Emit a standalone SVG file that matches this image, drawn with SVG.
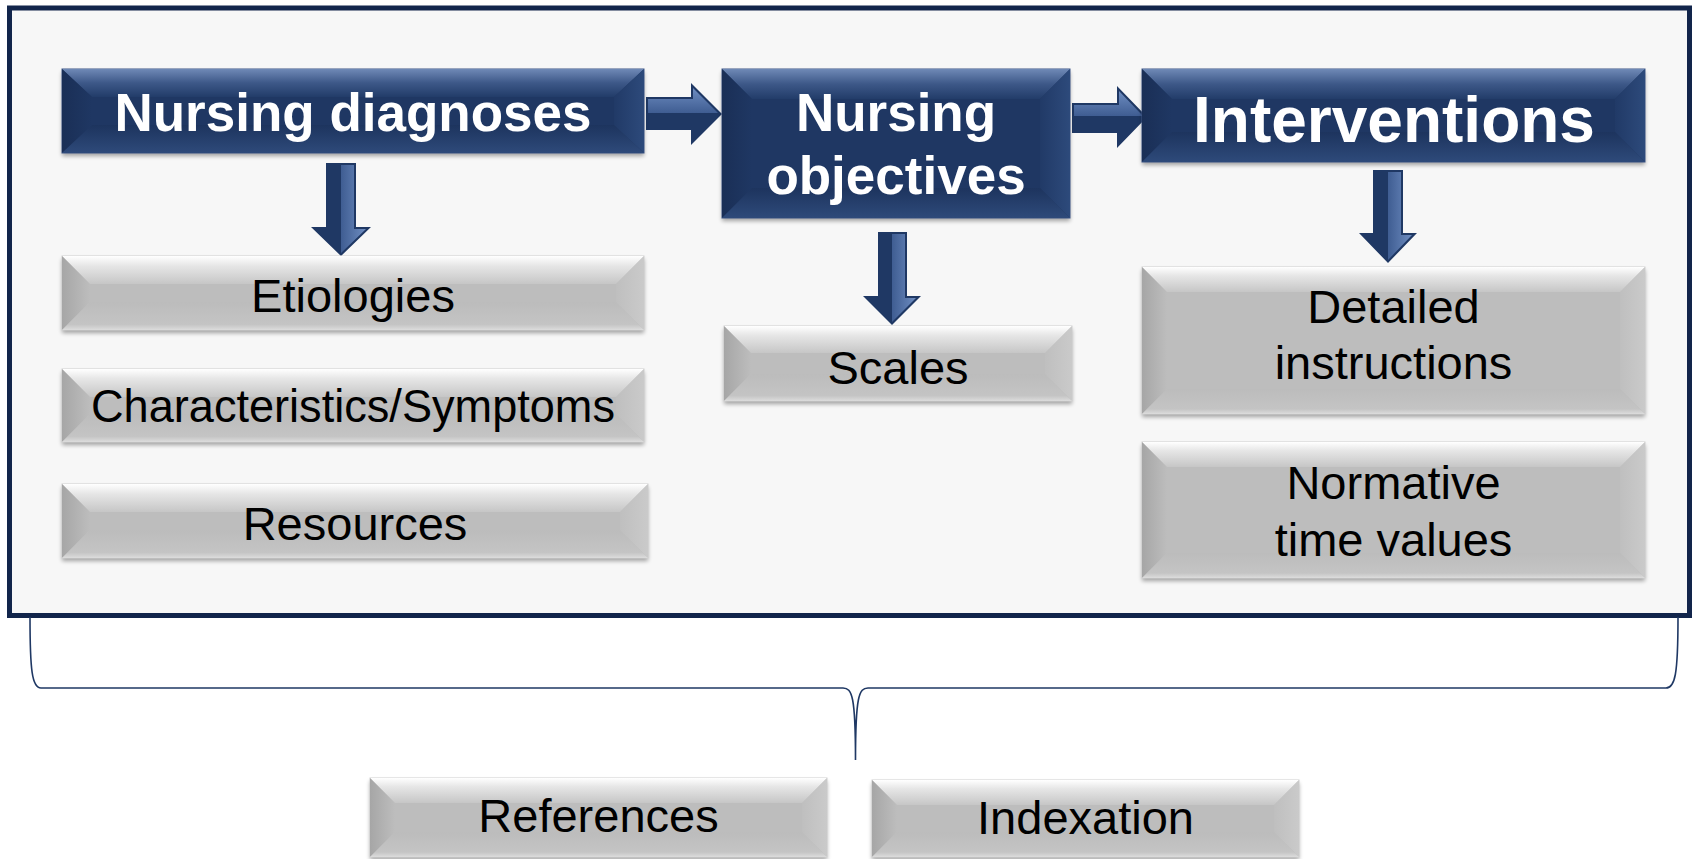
<svg xmlns="http://www.w3.org/2000/svg" width="1694" height="859" viewBox="0 0 1694 859">
<style>
  .tw{font-family:"Liberation Sans",Arial,sans-serif;font-weight:bold;fill:#ffffff;text-anchor:middle}
  .tb{font-family:"Liberation Sans",Arial,sans-serif;font-size:47px;fill:#000000;text-anchor:middle}
  .brace{fill:none;stroke:#1f3864;stroke-width:1.6}
  .gface{fill:url(#gFace);stroke:#d2d2d2;stroke-width:1}
  .gtop{fill:url(#gTop)}
  .gleft{fill:url(#gLeft)}
  .gright{fill:url(#gRight)}
  .gbot{fill:url(#gBot)}
  .dface{fill:#1f3763;stroke:#41598a;stroke-width:1}
  .dtop{fill:url(#dTop)}
  .dleft{fill:url(#dLeft)}
  .dright{fill:url(#dRight)}
  .dbot{fill:url(#dBot)}
  .shadow{fill:#000;opacity:0.35;filter:url(#blur)}
  .arrow{fill:#1f3864}
  .ahi{fill:url(#aHi)}
  .ahr{fill:url(#aHiR)}
</style>
<defs>
  <filter id="blur" x="-5%" y="-20%" width="110%" height="140%"><feGaussianBlur stdDeviation="2.2"/></filter>
  <linearGradient id="gFace" x1="0" y1="0" x2="0" y2="1"><stop offset="0" stop-color="#c9c9c9"/><stop offset="1" stop-color="#bababa"/></linearGradient>
  <linearGradient id="gTop" x1="0" y1="0" x2="0" y2="1"><stop offset="0" stop-color="#ffffff"/><stop offset="0.35" stop-color="#e6e6e6"/><stop offset="1" stop-color="#c6c6c6"/></linearGradient>
  <linearGradient id="gLeft" x1="0" y1="0" x2="1" y2="0"><stop offset="0" stop-color="#a6a6a6"/><stop offset="1" stop-color="#bdbdbd"/></linearGradient>
  <linearGradient id="gRight" x1="0" y1="0" x2="1" y2="0"><stop offset="0" stop-color="#bfbfbf"/><stop offset="1" stop-color="#cacaca"/></linearGradient>
  <linearGradient id="gBot" x1="0" y1="0" x2="0" y2="1"><stop offset="0" stop-color="#bcbcbc"/><stop offset="0.8" stop-color="#c4c4c4"/><stop offset="1" stop-color="#dcdcdc"/></linearGradient>
  <linearGradient id="dTop" x1="0" y1="0" x2="0" y2="1"><stop offset="0" stop-color="#6f89b6"/><stop offset="0.5" stop-color="#3d5888"/><stop offset="1" stop-color="#223c69"/></linearGradient>
  <linearGradient id="dLeft" x1="0" y1="0" x2="1" y2="0"><stop offset="0" stop-color="#1a2f56"/><stop offset="1" stop-color="#1f3763"/></linearGradient>
  <linearGradient id="dRight" x1="0" y1="0" x2="1" y2="0"><stop offset="0" stop-color="#213a67"/><stop offset="1" stop-color="#2d4a7b"/></linearGradient>
  <linearGradient id="dBot" x1="0" y1="0" x2="0" y2="1"><stop offset="0" stop-color="#1d345e"/><stop offset="1" stop-color="#2e4a7a"/></linearGradient>
  <linearGradient id="aHi" x1="0" y1="0" x2="1" y2="0"><stop offset="0" stop-color="#3f5d92"/><stop offset="1" stop-color="#6d8cc0"/></linearGradient>
  <linearGradient id="aHiR" x1="0" y1="0" x2="0" y2="1"><stop offset="0" stop-color="#6d8cc0"/><stop offset="1" stop-color="#3f5d92"/></linearGradient>
</defs>

<rect id="frame" x="9.5" y="8" width="1680" height="607.5" fill="#f7f7f7" stroke="#12254b" stroke-width="5"/>

<g id="connectors">
  <path class="brace" d="M30,617 C30,670 32,688 41,688 L843,688 C852,688 855.5,696 855.5,760 C855.5,696 859,688 868,688 L1666,688 C1675,688 1678,675 1678,617"/>
  <g id="arrow-nd-no">
    <polygon class="arrow" points="646,97 691,97 691,83 722,114 691,145 691,130 646,130"/>
    <polygon class="ahr" points="648,99 693,99 693,88 718,113 693,113 648,113"/>
  </g>
  <g id="arrow-no-int">
    <polygon class="arrow" points="1072,103 1117,103 1117,86 1147,117 1117,148 1117,133 1072,133"/>
    <polygon class="ahr" points="1074,105 1119,105 1119,91 1143,116 1119,116 1074,116"/>
  </g>
  <g id="arrow-nd-down">
    <polygon class="arrow" points="326,163 356,163 356,227 371,227 341,256 311,227 326,227"/>
    <polygon class="ahi" points="341,165 354,165 354,229 366,229 341,253"/>
  </g>
  <g id="arrow-no-down">
    <polygon class="arrow" points="878,232 907,232 907,296 921,296 892,325 863,296 878,296"/>
    <polygon class="ahi" points="892,234 905,234 905,298 916,298 892,322"/>
  </g>
  <g id="arrow-int-down">
    <polygon class="arrow" points="1373,170 1403,170 1403,233 1417,233 1388,263 1359,233 1373,233"/>
    <polygon class="ahi" points="1388,172 1401,172 1401,235 1412,235 1388,260"/>
  </g>
</g>

<g id="nursing-diagnoses">
  <rect class="shadow" x="62" y="72" width="582" height="84"/>
  <rect class="dface" x="62" y="69" width="582" height="84"/>
  <polygon class="dtop" points="62,69 644,69 614,97 92,97"/>
  <polygon class="dleft" points="62,69 92,97 92,125 62,153"/>
  <polygon class="dright" points="644,69 644,153 614,125 614,97"/>
  <polygon class="dbot" points="62,153 92,125 614,125 644,153"/>
  <rect x="92" y="97" width="522" height="28" fill="#1f3763"/>
  <text class="tw" x="353" y="131" font-size="53">Nursing diagnoses</text>
</g>
<g id="nursing-objectives">
  <rect class="shadow" x="722" y="72" width="348" height="149"/>
  <rect class="dface" x="722" y="69" width="348" height="149"/>
  <polygon class="dtop" points="722,69 1070,69 1040,99 752,99"/>
  <polygon class="dleft" points="722,69 752,99 752,188 722,218"/>
  <polygon class="dright" points="1070,69 1070,218 1040,188 1040,99"/>
  <polygon class="dbot" points="722,218 752,188 1040,188 1070,218"/>
  <rect x="752" y="99" width="288" height="89" fill="#1f3763"/>
  <text class="tw" x="896" y="131" font-size="53">Nursing</text>
  <text class="tw" x="896" y="194" font-size="53">objectives</text>
</g>
<g id="interventions">
  <rect class="shadow" x="1142" y="72" width="503" height="93"/>
  <rect class="dface" x="1142" y="69" width="503" height="93"/>
  <polygon class="dtop" points="1142,69 1645,69 1615,99 1172,99"/>
  <polygon class="dleft" points="1142,69 1172,99 1172,132 1142,162"/>
  <polygon class="dright" points="1645,69 1645,162 1615,132 1615,99"/>
  <polygon class="dbot" points="1142,162 1172,132 1615,132 1645,162"/>
  <rect x="1172" y="99" width="443" height="33" fill="#1f3763"/>
  <text class="tw" x="1394" y="141.5" font-size="64">Interventions</text>
</g>

<g id="etiologies">
  <rect class="shadow" x="62" y="259" width="582" height="74"/>
  <rect class="gface" x="62" y="256" width="582" height="74"/>
  <polygon class="gtop" points="62,256 644,256 616,284 90,284"/>
  <polygon class="gleft" points="62,256 90,284 90,302 62,330"/>
  <polygon class="gright" points="644,256 644,330 616,302 616,284"/>
  <polygon class="gbot" points="62,330 90,302 616,302 644,330"/>
  <rect x="90" y="284" width="526" height="18" fill="#bdbdbd"/>
  <text class="tb" x="353" y="312">Etiologies</text>
</g>
<g id="characteristics">
  <rect class="shadow" x="62" y="372" width="582" height="73"/>
  <rect class="gface" x="62" y="369" width="582" height="73"/>
  <polygon class="gtop" points="62,369 644,369 616,397 90,397"/>
  <polygon class="gleft" points="62,369 90,397 90,414 62,442"/>
  <polygon class="gright" points="644,369 644,442 616,414 616,397"/>
  <polygon class="gbot" points="62,442 90,414 616,414 644,442"/>
  <rect x="90" y="397" width="526" height="17" fill="#bdbdbd"/>
  <text class="tb" x="353" y="421.5" textLength="524" lengthAdjust="spacingAndGlyphs">Characteristics/Symptoms</text>
</g>
<g id="resources">
  <rect class="shadow" x="62" y="487" width="586" height="74"/>
  <rect class="gface" x="62" y="484" width="586" height="74"/>
  <polygon class="gtop" points="62,484 648,484 620,512 90,512"/>
  <polygon class="gleft" points="62,484 90,512 90,530 62,558"/>
  <polygon class="gright" points="648,484 648,558 620,530 620,512"/>
  <polygon class="gbot" points="62,558 90,530 620,530 648,558"/>
  <rect x="90" y="512" width="530" height="18" fill="#bdbdbd"/>
  <text class="tb" x="355" y="540">Resources</text>
</g>
<g id="scales">
  <rect class="shadow" x="724" y="329" width="348" height="75"/>
  <rect class="gface" x="724" y="326" width="348" height="75"/>
  <polygon class="gtop" points="724,326 1072,326 1045,353 751,353"/>
  <polygon class="gleft" points="724,326 751,353 751,374 724,401"/>
  <polygon class="gright" points="1072,326 1072,401 1045,374 1045,353"/>
  <polygon class="gbot" points="724,401 751,374 1045,374 1072,401"/>
  <rect x="751" y="353" width="294" height="21" fill="#bdbdbd"/>
  <text class="tb" x="898" y="383.5">Scales</text>
</g>
<g id="detailed-instructions">
  <rect class="shadow" x="1142" y="270" width="503" height="147"/>
  <rect class="gface" x="1142" y="267" width="503" height="147"/>
  <polygon class="gtop" points="1142,267 1645,267 1620,292 1167,292"/>
  <polygon class="gleft" points="1142,267 1167,292 1167,389 1142,414"/>
  <polygon class="gright" points="1645,267 1645,414 1620,389 1620,292"/>
  <polygon class="gbot" points="1142,414 1167,389 1620,389 1645,414"/>
  <rect x="1167" y="292" width="453" height="97" fill="#bdbdbd"/>
  <text class="tb" x="1393.5" y="322.5">Detailed</text>
  <text class="tb" x="1393.5" y="378.5">instructions</text>
</g>
<g id="normative-time-values">
  <rect class="shadow" x="1142" y="445" width="503" height="136"/>
  <rect class="gface" x="1142" y="442" width="503" height="136"/>
  <polygon class="gtop" points="1142,442 1645,442 1620,467 1167,467"/>
  <polygon class="gleft" points="1142,442 1167,467 1167,553 1142,578"/>
  <polygon class="gright" points="1645,442 1645,578 1620,553 1620,467"/>
  <polygon class="gbot" points="1142,578 1167,553 1620,553 1645,578"/>
  <rect x="1167" y="467" width="453" height="86" fill="#bdbdbd"/>
  <text class="tb" x="1393.5" y="498.5">Normative</text>
  <text class="tb" x="1393.5" y="556">time values</text>
</g>
<g id="references">
  <rect class="shadow" x="370" y="781" width="457" height="79"/>
  <rect class="gface" x="370" y="778" width="457" height="79"/>
  <polygon class="gtop" points="370,778 827,778 802,803 395,803"/>
  <polygon class="gleft" points="370,778 395,803 395,832 370,857"/>
  <polygon class="gright" points="827,778 827,857 802,832 802,803"/>
  <polygon class="gbot" points="370,857 395,832 802,832 827,857"/>
  <rect x="395" y="803" width="407" height="29" fill="#bdbdbd"/>
  <text class="tb" x="598.5" y="832">References</text>
</g>
<g id="indexation">
  <rect class="shadow" x="872" y="783" width="427" height="77"/>
  <rect class="gface" x="872" y="780" width="427" height="77"/>
  <polygon class="gtop" points="872,780 1299,780 1274,805 897,805"/>
  <polygon class="gleft" points="872,780 897,805 897,832 872,857"/>
  <polygon class="gright" points="1299,780 1299,857 1274,832 1274,805"/>
  <polygon class="gbot" points="872,857 897,832 1274,832 1299,857"/>
  <rect x="897" y="805" width="377" height="27" fill="#bdbdbd"/>
  <text class="tb" x="1085.5" y="834">Indexation</text>
</g>
</svg>
